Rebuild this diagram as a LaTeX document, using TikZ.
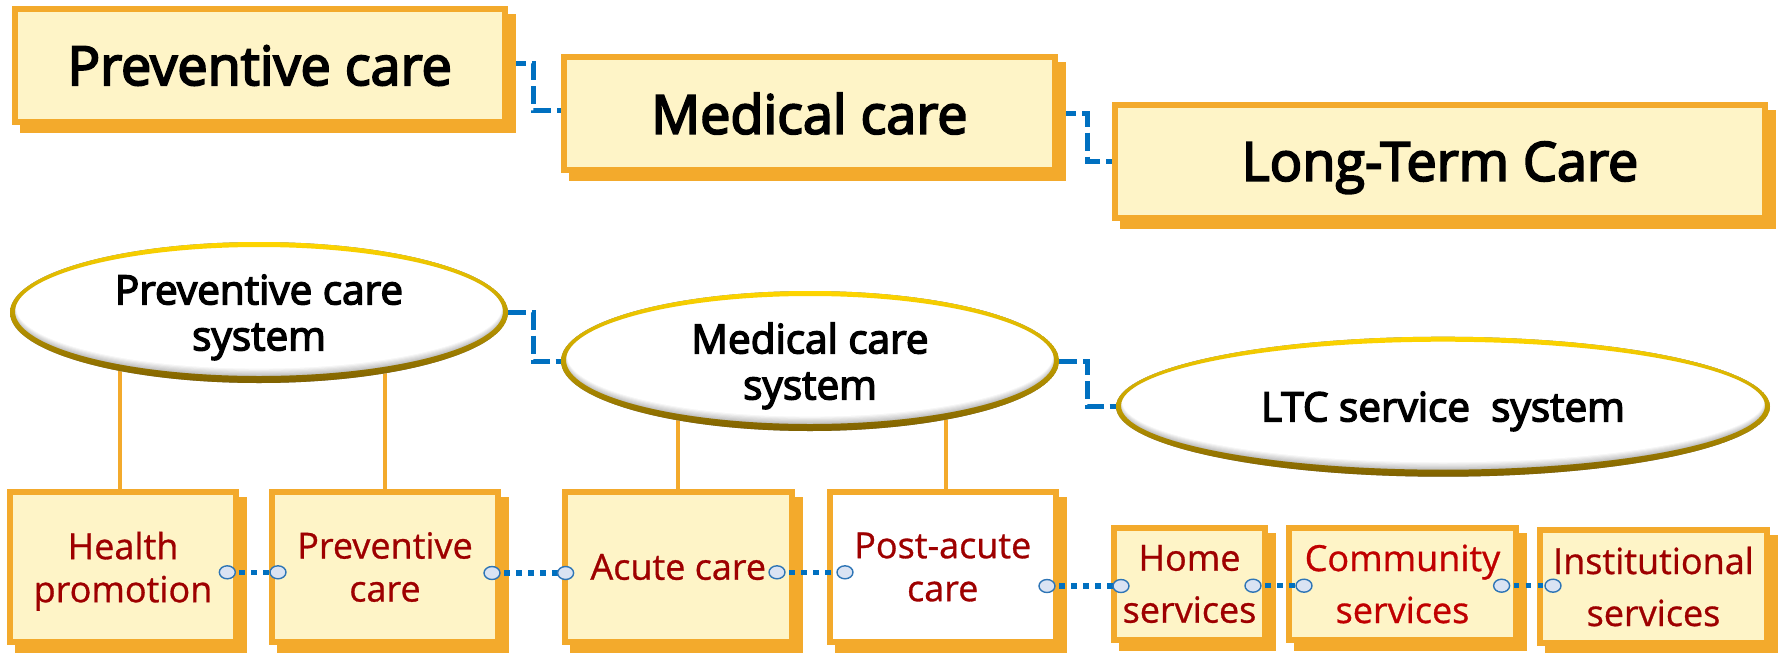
\documentclass[tikz,border=0pt]{standalone}
\usepackage{fontspec}
\setmainfont{Open Sans}
\newfontfamily\semib{Open Sans}[FakeBold=3.5]
\newfontfamily\medf{Open Sans}[FakeBold=0.8]
\usetikzlibrary{shapes.geometric}
\pgfdeclarelayer{bg}
\pgfsetlayers{bg,main}
\definecolor{boxorange}{RGB}{243,170,44}
\definecolor{boxfill}{RGB}{254,244,199}
\definecolor{conblue}{RGB}{0,112,192}
\definecolor{txtred}{RGB}{158,0,0}
\definecolor{txtred2}{RGB}{192,0,0}
\definecolor{pinfill}{RGB}{218,227,243}
\definecolor{pindraw}{RGB}{46,117,182}
\definecolor{goldtop}{RGB}{255,214,0}
\definecolor{goldmid}{RGB}{222,176,0}
\definecolor{goldbot}{RGB}{128,98,0}

\newcommand\glossell[4]{%
  \fill[white] (#1,#2) ellipse [x radius=#3pt, y radius=#4pt];
  \begin{scope}
    \clip (#1,#2) ellipse [x radius=#3pt, y radius=#4pt];
    \foreach \i in {0,...,12}{%
      \pgfmathsetmacro\gv{45*(12-\i)/12}%
      \fill[black!\gv] (#1,#2-0.45*\i) ellipse [x radius=#3pt-0.5pt*\i, y radius=#4pt-0.75pt*\i];
    }
  \end{scope}
  \shade[top color=goldtop, middle color=goldmid, bottom color=goldbot, even odd rule]
    (#1,#2) ellipse [x radius=#3pt, y radius=#4pt]
    (#1,#2-1) ellipse [x radius=#3pt-5pt, y radius=#4pt-6pt];
}

\begin{document}
\begin{tikzpicture}[x=1pt,y=-1pt,
  cbox/.style={rectangle, draw=boxorange, line width=6pt, fill=boxfill, inner sep=0pt, align=center},
  ttl/.style={font=\semib\fontsize{54}{60}\selectfont, text=black},
  sub/.style={font=\medf\fontsize{36}{43}\selectfont, text=txtred},
  subw/.style={font=\medf\fontsize{36}{52}\selectfont, text=txtred},
  ell/.style={ellipse, inner sep=0pt, align=center, font=\semib\fontsize{40.5}{46}\selectfont},
  elbow/.style={draw=conblue, line width=5pt, dash pattern=on 18pt off 6pt},
  dotconn/.style={draw=conblue, line width=5.5pt, dash pattern=on 5.5pt off 6.5pt},
  endc/.style={ellipse, solid, draw=pindraw, fill=pinfill, line width=1.4pt, minimum width=16pt, minimum height=13pt, inner sep=0pt},
  stem/.style={draw=boxorange, line width=4.3pt},
]
\useasboundingbox (0,0) rectangle (1783,653);

% top boxes
\node[cbox, ttl, minimum width=490.5pt, minimum height=113pt] (t1) at (259.75,65.5) {Preventive care};
\node[cbox, ttl, minimum width=491pt, minimum height=113pt] (t2) at (809.5,113.5) {Medical care};
\node[cbox, ttl, minimum width=650pt, minimum height=113pt] (t3) at (1440,161.5) {Lon\smash{g}-Term Care};

% ellipses
\glossell{259}{312.5}{249}{70.5}
\node[ell, minimum width=498pt, minimum height=141pt] (e1) at (259,312.5) {Preventive care\\\smash{system}};
\glossell{810}{361}{249}{70}
\node[ell, minimum width=498pt, minimum height=140pt] (e2) at (810,361) {Medical care\\\smash{system}};
\glossell{1443}{406.7}{327}{70}
\node[ell, minimum width=654pt, minimum height=140pt] (e3) at (1443,406.7) {LTC service\ \ s\smash{y}stem};

% bottom boxes
\node[cbox, sub, minimum width=226pt, minimum height=150pt] (b1) at (123,567) {Health\\\smash{promotion}};
\node[cbox, sub, minimum width=226pt, minimum height=150pt] (b2) at (385,567) {Preventive\\care};
\node[cbox, sub, minimum width=226.5pt, minimum height=150pt] (b3) at (678.25,567) {Acute care};
\node[cbox, sub, fill=white, minimum width=225.5pt, minimum height=150pt] (b4) at (942.75,567) {Post-acute\\care};
\node[cbox, subw, minimum width=151pt, minimum height=112pt] (b5) at (1189.5,584) {Home\\services};
\node[cbox, subw, text=txtred2, minimum width=227pt, minimum height=112pt] (b6) at (1402.5,584) {Community\\services};
\node[cbox, subw, minimum width=227pt, minimum height=113pt] (b7) at (1653.5,586.5) {Institutional\\services};

\begin{pgfonlayer}{bg}
  \draw[elbow] ([yshift=2.5pt]t1.east) -- ++(25,0) |- ([yshift=3.5pt]t2.west);
  \draw[elbow] (t2.east) -- ++(29,0) |- (t3.west);
  \draw[elbow] (e1.east) -- ++(25,0) |- (e2.west);
  \draw[elbow] (e2.east) -- ++(28,0) |- (e3.west);
  \draw[stem] ([xshift=-3pt]b1.north) -- ([xshift=-3pt]b1.north |- e1.center);
  \draw[stem] (b2.north) -- (b2.north |- e1.center);
  \draw[stem] (b3.north) -- (b3.north |- e2.center);
  \draw[stem] ([xshift=3pt]b4.north) -- ([xshift=3pt]b4.north |- e2.center);
  \foreach \n in {t1,t2,t3,b1,b2,b3,b4,b5,b6,b7}
    \fill[boxorange] ([shift={(8pt,-8pt)}]\n.south west) rectangle ([shift={(8pt,-8pt)}]\n.north east);
\end{pgfonlayer}

% dotted connectors
\draw[dotconn] ([xshift=-11.7pt,yshift=-5.3pt]b1.east) -- ([xshift=9pt,yshift=-5.3pt]b2.west) node[endc,pos=0]{} node[endc,pos=1]{};
\draw[dotconn] ([xshift=-9pt,yshift=-6pt]b2.east) -- ([xshift=3.6pt,yshift=-6pt]b3.west) node[endc,pos=0]{} node[endc,pos=1]{};
\draw[dotconn] ([xshift=-17.5pt,yshift=-5.3pt]b3.east) -- ([xshift=18pt,yshift=-5.3pt]b4.west) node[endc,pos=0]{} node[endc,pos=1]{};
\draw[dotconn] ([xshift=-11.5pt,yshift=-19pt]b4.east) -- ([xshift=10pt,yshift=-2pt]b5.west) node[endc,pos=0]{} node[endc,pos=1]{};
\draw[dotconn] ([xshift=-15pt,yshift=-1.7pt]b5.east) -- ([xshift=18pt,yshift=-1.7pt]b6.west) node[endc,pos=0]{} node[endc,pos=1]{};
\draw[dotconn] ([xshift=-17.4pt,yshift=-1.7pt]b6.east) -- ([xshift=16pt,yshift=0.8pt]b7.west) node[endc,pos=0]{} node[endc,pos=1]{};
\end{tikzpicture}
\end{document}
